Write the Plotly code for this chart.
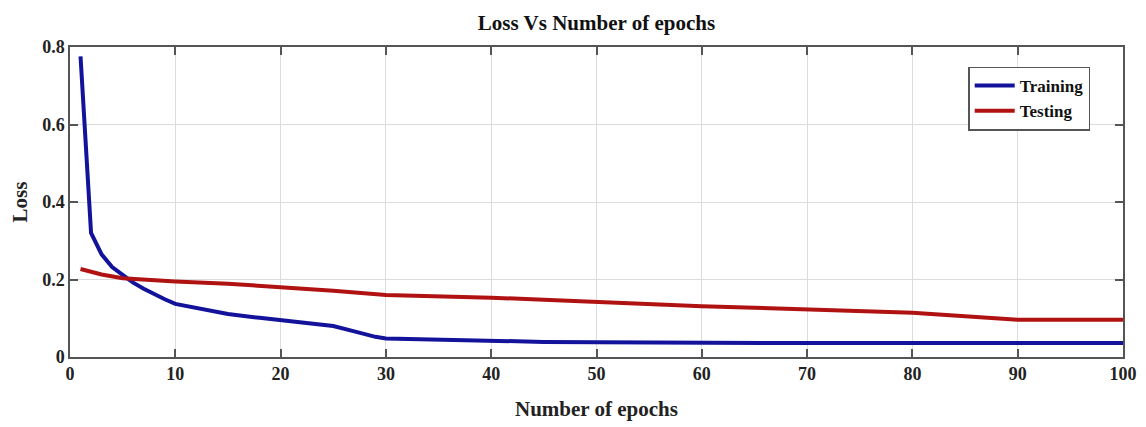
import plotly.graph_objects as go

# Training loss (blue)
train_epochs = [1, 2, 3, 4, 5, 6, 7, 8, 9, 10, 12, 15, 18, 20, 23, 25, 27, 29, 30, 35, 40, 45, 50, 55, 60, 70, 80, 90, 100]
train_loss = [0.776, 0.32, 0.265, 0.232, 0.212, 0.192, 0.176, 0.162, 0.149, 0.137, 0.126, 0.111, 0.101, 0.095, 0.086, 0.080, 0.066, 0.052, 0.048, 0.045, 0.041, 0.039, 0.038, 0.037, 0.036, 0.036, 0.036, 0.036, 0.036]

# Testing loss (red)
test_epochs = [1, 3, 5, 7, 10, 15, 20, 25, 30, 35, 40, 45, 50, 55, 60, 65, 70, 75, 80, 85, 90, 95, 100]
test_loss = [0.227, 0.213, 0.203, 0.199, 0.195, 0.189, 0.181, 0.171, 0.16, 0.157, 0.153, 0.148, 0.142, 0.136, 0.131, 0.127, 0.123, 0.119, 0.114, 0.105, 0.096, 0.096, 0.096]

x_ticks = [0, 10, 20, 30, 40, 50, 60, 70, 80, 90, 100]
y_ticks = [0, 0.2, 0.4, 0.6, 0.8]
y_tick_labels = ["0", "0.2", "0.4", "0.6", "0.8"]

FONT = "Liberation Serif, Times New Roman, serif"

fig = go.Figure()
fig.add_trace(go.Scatter(x=train_epochs, y=train_loss, mode="lines", name="Training",
                         line=dict(color="#12129a", width=4)))
fig.add_trace(go.Scatter(x=test_epochs, y=test_loss, mode="lines", name="Testing",
                         line=dict(color="#b01212", width=4)))

axis_common = dict(
    showgrid=True, gridcolor="#dcdcdc", gridwidth=1,
    showline=True, linecolor="#555555", linewidth=1.5, mirror="ticks",
    ticks="inside", ticklen=8, tickcolor="#555555", tickwidth=1.5,
    zeroline=False, automargin=False,
    tickfont=dict(family=FONT, size=18, color="#222222", weight="bold"),
)

fig.update_layout(
    width=1146, height=427,
    margin=dict(l=70, r=23, t=47, b=70),
    paper_bgcolor="white", plot_bgcolor="white",
    title=dict(text="<b>Loss Vs Number of epochs</b>", x=0.5, xref="paper",
               y=1 - 23 / 427, yref="container", yanchor="middle", xanchor="center",
               font=dict(family=FONT, size=21, color="#111111")),
    xaxis=dict(range=[0, 100], tickvals=x_ticks,
               title=dict(text="<b>Number of epochs</b>", standoff=18,
                          font=dict(family=FONT, size=21, color="#222222")),
               **axis_common),
    yaxis=dict(range=[0, 0.8], tickvals=y_ticks, ticktext=y_tick_labels,
               title=dict(text="<b>Loss</b>", standoff=9,
                          font=dict(family=FONT, size=21, color="#222222")),
               **axis_common),
    legend=dict(x=0.853, y=0.937, xanchor="left", yanchor="top",
                bgcolor="white", bordercolor="#555555", borderwidth=1.5,
                font=dict(family=FONT, size=17, color="#111111", weight="bold"),
                itemwidth=40),
    showlegend=True,
)

fig.write_html("out.html")
